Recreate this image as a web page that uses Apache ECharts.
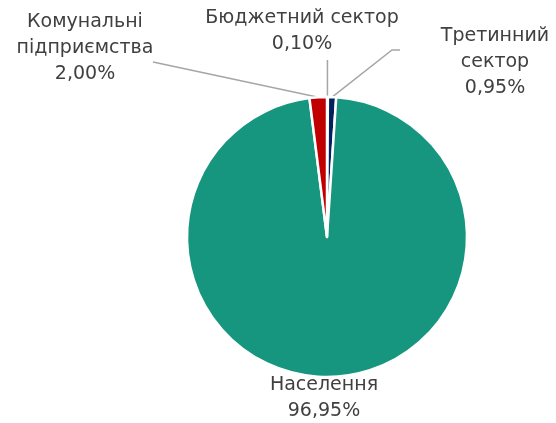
<!DOCTYPE html>
<html>
<head>
<meta charset="utf-8">
<script src="https://cdn.jsdelivr.net/npm/echarts@6/dist/echarts.min.js"></script>
<style>
  html, body { margin: 0; padding: 0; background: #fff; }
  #chart { width: 556px; height: 423px; }
</style>
</head>
<body>
<div id="chart"></div>
<script>
// order: clockwise from 12 o'clock, as in the source chart
const categories = ['Бюджетний сектор', 'Третинний\nсектор', 'Населення', 'Комунальні\nпідприємства']
const shares = [0.10, 0.95, 96.95, 2.00]
const colors = ['#7F7F7F', '#002060', '#16967E', '#C00000']

// label anchor points (centre of text block) and leader line ends
const labelPos = [
  { x: 302, y: 31, line: (s) => [s, [s[0], 60]] },
  { x: 495, y: 62, line: (s) => [s, [392, 50], [400, 50]] },
  { x: 324, y: 398, line: null },
  { x: 85, y: 48, line: (s) => [s, [153, 62]] },
]

const fmt = (v) => v.toFixed(2).replace('.', ',') + '%'

const myChart = echarts.init(document.getElementById('chart'))

const option = {
  animation: false,
  series: [
    {
      type: 'pie',
      center: [327, 237],
      radius: 140,
      startAngle: 90,
      clockwise: true,
      avoidLabelOverlap: false,
      itemStyle: {
        borderColor: '#fff',
        borderWidth: 2.5,
      },
      label: {
        position: 'outside',
        fontFamily: 'DejaVu Sans',
        fontSize: 19,
        lineHeight: 26,
        color: '#404040',
        align: 'center',
        formatter: (p) => p.name + '\n' + fmt(p.value),
      },
      labelLine: {
        show: true,
        lineStyle: { color: '#A6A6A6', width: 1.5 },
      },
      labelLayout: (params) => {
        const p = labelPos[params.dataIndex]
        const res = {
          x: p.x,
          y: p.y,
          align: 'center',
          verticalAlign: 'middle',
        }
        if (p.line && params.labelLinePoints) {
          res.labelLinePoints = p.line(params.labelLinePoints[0])
        }
        return res
      },
      data: categories.map((name, i) => ({
        name: name,
        value: shares[i],
        itemStyle: { color: colors[i] },
        labelLine: { show: i !== 2 },
      })),
    },
  ],
}

option && myChart.setOption(option)
</script>
</body>
</html>
